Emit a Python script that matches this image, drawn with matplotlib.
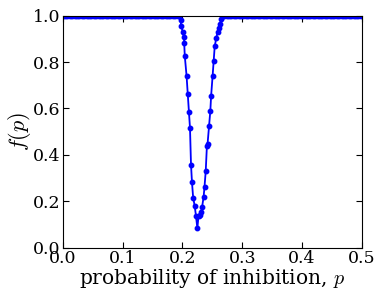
import numpy as np
import matplotlib
matplotlib.use("Agg")
import matplotlib.pyplot as plt

plt.rcParams['font.family'] = ['DejaVu Serif']
plt.rcParams['mathtext.fontset'] = 'cm'

# flat regions (f = 1)
p_left = np.round(np.arange(0.0, 0.194, 0.004), 3)
f_left = np.ones_like(p_left)
p_right = np.round(np.arange(0.270, 0.5001, 0.004), 3)
f_right = np.ones_like(p_right)

# dip region
p_dip = [0.194, 0.197, 0.198, 0.2005, 0.2027, 0.203, 0.204, 0.207, 0.209, 0.211,
         0.2127, 0.2144, 0.216, 0.218, 0.2205, 0.2227, 0.225, 0.227, 0.229, 0.2317,
         0.233, 0.2355, 0.237, 0.239, 0.241, 0.242, 0.2445, 0.2467, 0.248, 0.2505,
         0.2522, 0.254, 0.2567, 0.259, 0.2605, 0.263, 0.265, 0.268]
f_dip = [1.0, 0.981, 0.955, 0.931, 0.907, 0.884, 0.826, 0.74, 0.662, 0.585,
         0.516, 0.358, 0.283, 0.215, 0.181, 0.137, 0.084, 0.137, 0.14, 0.153,
         0.177, 0.22, 0.263, 0.33, 0.44, 0.445, 0.525, 0.59, 0.654, 0.74,
         0.805, 0.867, 0.905, 0.931, 0.946, 0.964, 0.984, 1.0]

p = np.concatenate([p_left, p_dip, p_right])
f = np.concatenate([f_left, f_dip, f_right])

xticks = [0.0, 0.1, 0.2, 0.3, 0.4, 0.5]
yticks = [0.0, 0.2, 0.4, 0.6, 0.8, 1.0]

fig = plt.figure(figsize=(3.77, 2.89), dpi=100)
ax = fig.add_axes([0.1663, 0.143, 0.7937, 0.803])
ax.plot(p, f, '-o', color='#0000ff', lw=1.3, ms=3.2, mec='#0000ff', clip_on=True)
ax.set_xlim(0, 0.5)
ax.set_ylim(0, 1.0)
ax.set_xticks(xticks)
ax.set_yticks(yticks)
ax.tick_params(direction='in', top=True, right=True, labelsize=12.5, length=4, pad=1.5)
ax.set_xlabel('probability of inhibition, $p$', fontsize=14.5, labelpad=0)
ax.set_ylabel('$f(p)$', fontsize=16, labelpad=0)
fig.savefig('out.png', dpi=100)
